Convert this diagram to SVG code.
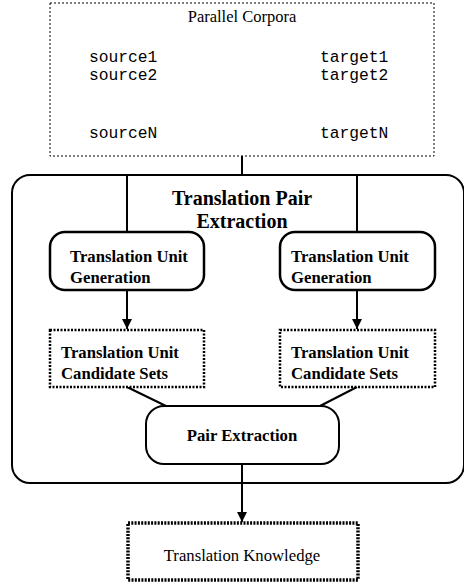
<svg xmlns="http://www.w3.org/2000/svg" width="464" height="583" viewBox="0 0 464 583">
  <style>
    .serif { font-family: "Liberation Serif", "Times New Roman", serif; fill: #000; }
    .mono { font-family: "Liberation Mono", "Courier New", monospace; font-size: 16.3px; fill: #000; }
    .bold { font-weight: bold; }
    .body { font-size: 16.7px; }
    .line { stroke: #000; stroke-width: 2; fill: none; }
    .solid { stroke: #000; stroke-width: 2.5; fill: #fff; }
    .dotted-thin { stroke: #000; stroke-width: 1; stroke-dasharray: 2 2; fill: #fff; }
    .dotted { stroke: #000; stroke-width: 2.5; stroke-dasharray: 2 1.5; fill: #fff; }
    .dotted-heavy { stroke: #000; stroke-width: 3.5; stroke-dasharray: 2 1.3; fill: #fff; }
  </style>
  <defs>
    <marker id="arrow" viewBox="0 0 10 10" refX="10" refY="5" markerWidth="10" markerHeight="10" markerUnits="userSpaceOnUse" orient="auto">
      <path d="M0,0 L10,5 L0,10 z" fill="#000"/>
    </marker>
  </defs>
  <rect width="464" height="583" fill="#fff"/>

  <!-- outer container -->
  <g id="translation-pair-extraction">
    <rect x="12" y="175" width="452" height="308" rx="18" ry="18" class="line" fill="#fff"/>
    <text x="242" y="205" text-anchor="middle" class="serif bold" font-size="20">Translation Pair</text>
    <text x="242" y="228" text-anchor="middle" class="serif bold" font-size="20">Extraction</text>
  </g>

  <!-- connectors -->
  <g id="connectors">
    <line x1="242" y1="156" x2="242" y2="175" class="line"/>
    <line x1="127" y1="175" x2="127" y2="232" class="line"/>
    <line x1="357" y1="175" x2="357" y2="232" class="line"/>
    <line x1="127" y1="290" x2="127" y2="329" class="line" marker-end="url(#arrow)"/>
    <line x1="357" y1="290" x2="357" y2="329" class="line" marker-end="url(#arrow)"/>
    <line x1="127" y1="387" x2="166" y2="406" class="line"/>
    <line x1="357" y1="387" x2="320" y2="406" class="line"/>
    <line x1="242" y1="464" x2="242" y2="522" class="line" marker-end="url(#arrow)"/>
  </g>

  <g id="parallel-corpora">
    <rect x="50" y="3" width="384" height="153" class="dotted-thin"/>
    <text x="242" y="22" text-anchor="middle" class="serif" font-size="16.5">Parallel Corpora</text>
    <text x="89" y="62" class="mono">source1</text>
    <text x="89" y="80" class="mono">source2</text>
    <text x="89" y="138" class="mono">sourceN</text>
    <text x="320" y="62" class="mono">target1</text>
    <text x="320" y="80" class="mono">target2</text>
    <text x="320" y="138" class="mono">targetN</text>
  </g>

  <g id="tug-left">
    <rect x="50" y="232" width="154" height="58" rx="15" ry="15" class="solid"/>
    <text x="70" y="262" class="serif bold body">Translation Unit</text>
    <text x="70" y="283" class="serif bold body">Generation</text>
  </g>

  <g id="tug-right">
    <rect x="280" y="232" width="155" height="58" rx="15" ry="15" class="solid"/>
    <text x="291" y="262" class="serif bold body">Translation Unit</text>
    <text x="291" y="283" class="serif bold body">Generation</text>
  </g>

  <g id="tucs-left">
    <rect x="50" y="330" width="154" height="57" class="dotted"/>
    <text x="61" y="358" class="serif bold body">Translation Unit</text>
    <text x="61" y="379" class="serif bold body">Candidate Sets</text>
  </g>

  <g id="tucs-right">
    <rect x="280" y="330" width="155" height="57" class="dotted"/>
    <text x="291" y="358" class="serif bold body">Translation Unit</text>
    <text x="291" y="379" class="serif bold body">Candidate Sets</text>
  </g>

  <g id="pair-extraction">
    <rect x="146" y="406" width="193" height="58" rx="18" ry="18" class="line" fill="#fff"/>
    <text x="242" y="441" text-anchor="middle" class="serif bold body">Pair Extraction</text>
  </g>

  <g id="translation-knowledge">
    <rect x="128" y="523" width="230" height="57" class="dotted-heavy"/>
    <text x="242" y="561" text-anchor="middle" class="serif" font-size="16.7">Translation Knowledge</text>
  </g>
</svg>
